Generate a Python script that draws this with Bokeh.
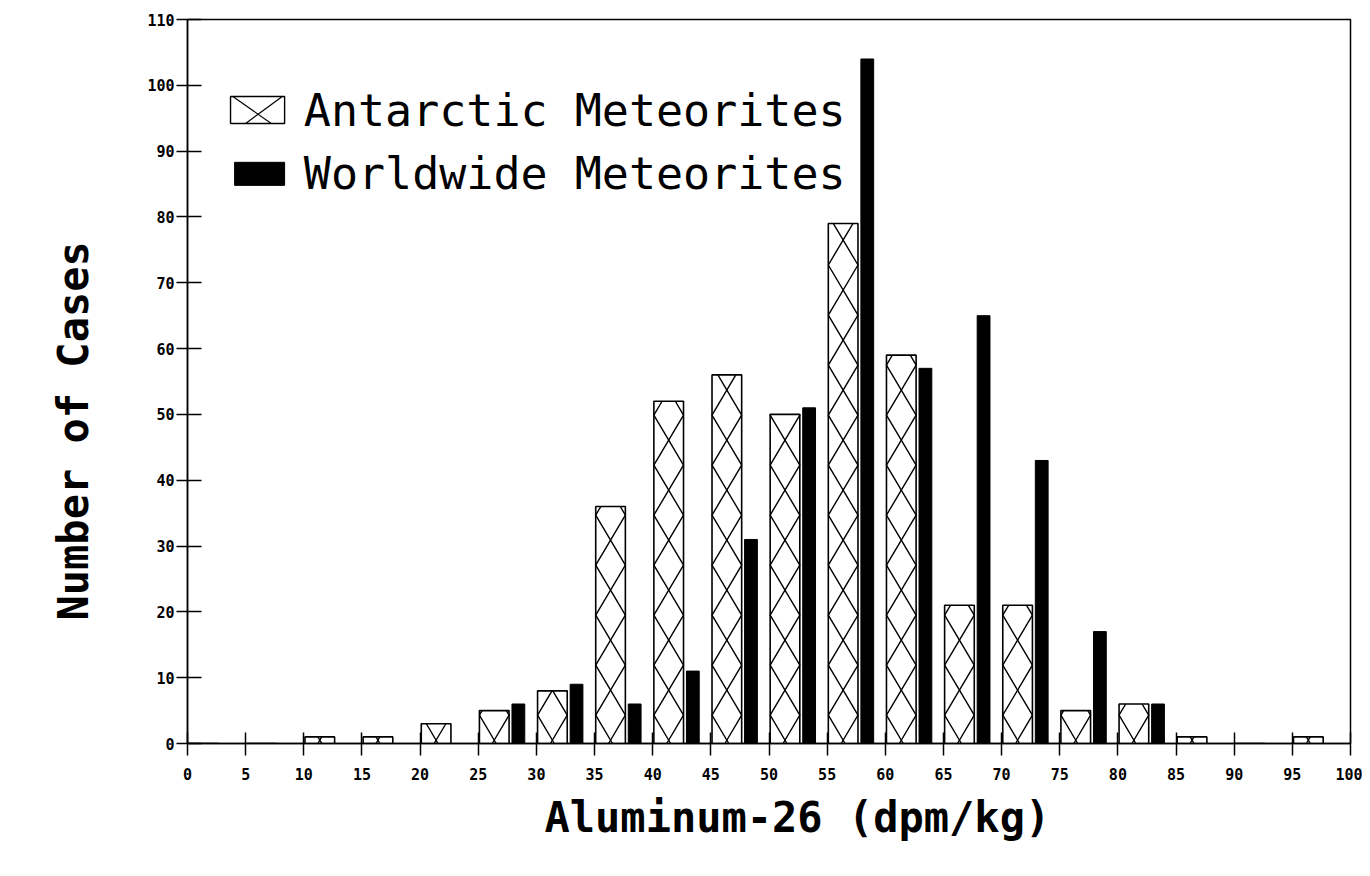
from bokeh.plotting import figure
from bokeh.models import Range1d, FixedTicker, ColumnDataSource, Title
from bokeh.embed import file_html
from bokeh.resources import INLINE
from bokeh.core.properties import value

# ---- data ----
bins = [0, 5, 10, 15, 20, 25, 30, 35, 40, 45, 50, 55, 60, 65, 70, 75, 80, 85, 90, 95]
antarctic = [0, 0, 1, 1, 3, 5, 8, 36, 52, 56, 50, 79, 59, 21, 21, 5, 6, 1, 0, 1]
worldwide = [0, 0, 0, 0, 0, 6, 9, 6, 11, 31, 51, 104, 57, 65, 43, 17, 6, 0, 0, 0]
x_ticks = list(range(0, 101, 5))
y_ticks = list(range(0, 111, 10))
series_names = ["Antarctic Meteorites", "Worldwide Meteorites"]
x_title = "Aluminum-26 (dpm/kg)"
y_title = "Number of Cases"

# bar placement within a 5-unit bin
A_L, A_R = 0.1, 2.65
W_L, W_R = 2.9, 4.0
# hatch lattice (data units)
PERIOD = 7.6
PHASE = 0.5

MONO = "DejaVu Sans Mono"

p = figure(width=1362, height=868, output_backend="svg", toolbar_location=None,
           x_range=Range1d(0, 100), y_range=Range1d(0, 110),
           min_border_left=187, min_border_right=12, min_border_top=19,
           min_border_bottom=125, background_fill_color="white",
           border_fill_color="white")
p.grid.visible = False
p.outline_line_color = "black"
p.outline_line_width = 1.5

# Antarctic bars
a_src = ColumnDataSource(dict(
    left=[b + A_L for b in bins], right=[b + A_R for b in bins],
    top=antarctic, bottom=[0] * len(bins)))
p.quad(left="left", right="right", top="top", bottom="bottom", source=a_src,
       fill_color="white", line_color="black", line_width=1.6)

# cross-hatch lattice inside each Antarctic bar
def tri(u):
    m = u % 2.0
    return 1.0 - abs(m - 1.0)

hx, hy = [], []
for b, h in zip(bins, antarctic):
    if h <= 0:
        continue
    l, r = b + A_L, b + A_R
    w = r - l
    ys = [0.0]
    k = -5
    while True:
        yb = PHASE + (k - 0.5) * PERIOD
        k += 1
        if yb <= 0:
            continue
        if yb >= h:
            break
        ys.append(yb)
    ys.append(float(h))
    x1 = [l + w * tri((y - PHASE) / PERIOD + 0.5) for y in ys]
    x2 = [l + w * (1 - tri((y - PHASE) / PERIOD + 0.5)) for y in ys]
    hx += [x1, x2]
    hy += [ys, ys]
p.multi_line(xs=hx, ys=hy, line_color="black", line_width=1.4)

# Worldwide bars
w_src = ColumnDataSource(dict(
    left=[b + W_L for b in bins], right=[b + W_R for b in bins],
    top=worldwide, bottom=[0] * len(bins)))
p.quad(left="left", right="right", top="top", bottom="bottom", source=w_src,
       fill_color="black", line_color="black", line_width=1)

# legend
p.quad(left=[3.7], right=[8.35], top=[98.3], bottom=[94.2],
       fill_color="white", line_color="black", line_width=1.4)
p.multi_line(xs=[[3.9, 7.2], [8.15, 5.0]], ys=[[98.3, 94.2], [98.3, 94.2]],
             line_color="black", line_width=1.2)
p.quad(left=[4.05], right=[8.35], top=[88.3], bottom=[84.8],
       fill_color="black", line_color="black")
p.text(x=[10.0, 10.0], y=[96.1, 86.6], text=series_names,
       text_font=value(MONO), text_font_size="45px", text_color="black",
       text_baseline="alphabetic", text_align="left")

# axes
for ax in (p.xaxis[0], p.yaxis[0]):
    ax.axis_line_color = "black"
    ax.axis_line_width = 1.5
    ax.major_tick_line_color = "black"
    ax.major_tick_line_width = 1.5
    ax.minor_tick_line_color = None
    ax.major_label_text_font = MONO
    ax.major_label_text_font_style = "bold"
    ax.major_label_text_font_size = "15px"
    ax.major_label_text_color = "black"

p.xaxis.ticker = FixedTicker(ticks=x_ticks)
p.yaxis.ticker = FixedTicker(ticks=y_ticks)
p.xaxis.major_tick_in = 11
p.xaxis.major_tick_out = 12
p.yaxis.major_tick_in = 14
p.yaxis.major_tick_out = 11
p.xaxis.major_label_standoff = 12
p.yaxis.major_label_standoff = 2

# axis titles as side titles (off-centre like the reference)
p.add_layout(Title(text=x_title, align="left", offset=357, standoff=20,
                   vertical_align="top",
                   text_font=MONO, text_font_style="bold",
                   text_font_size="42px", text_color="black"), "below")
p.add_layout(Title(text=y_title, align="left", offset=123, standoff=90,
                   vertical_align="top",
                   text_font=MONO, text_font_style="bold",
                   text_font_size="42px", text_color="black"), "left")

open("out.html", "w").write(file_html(p, INLINE))
